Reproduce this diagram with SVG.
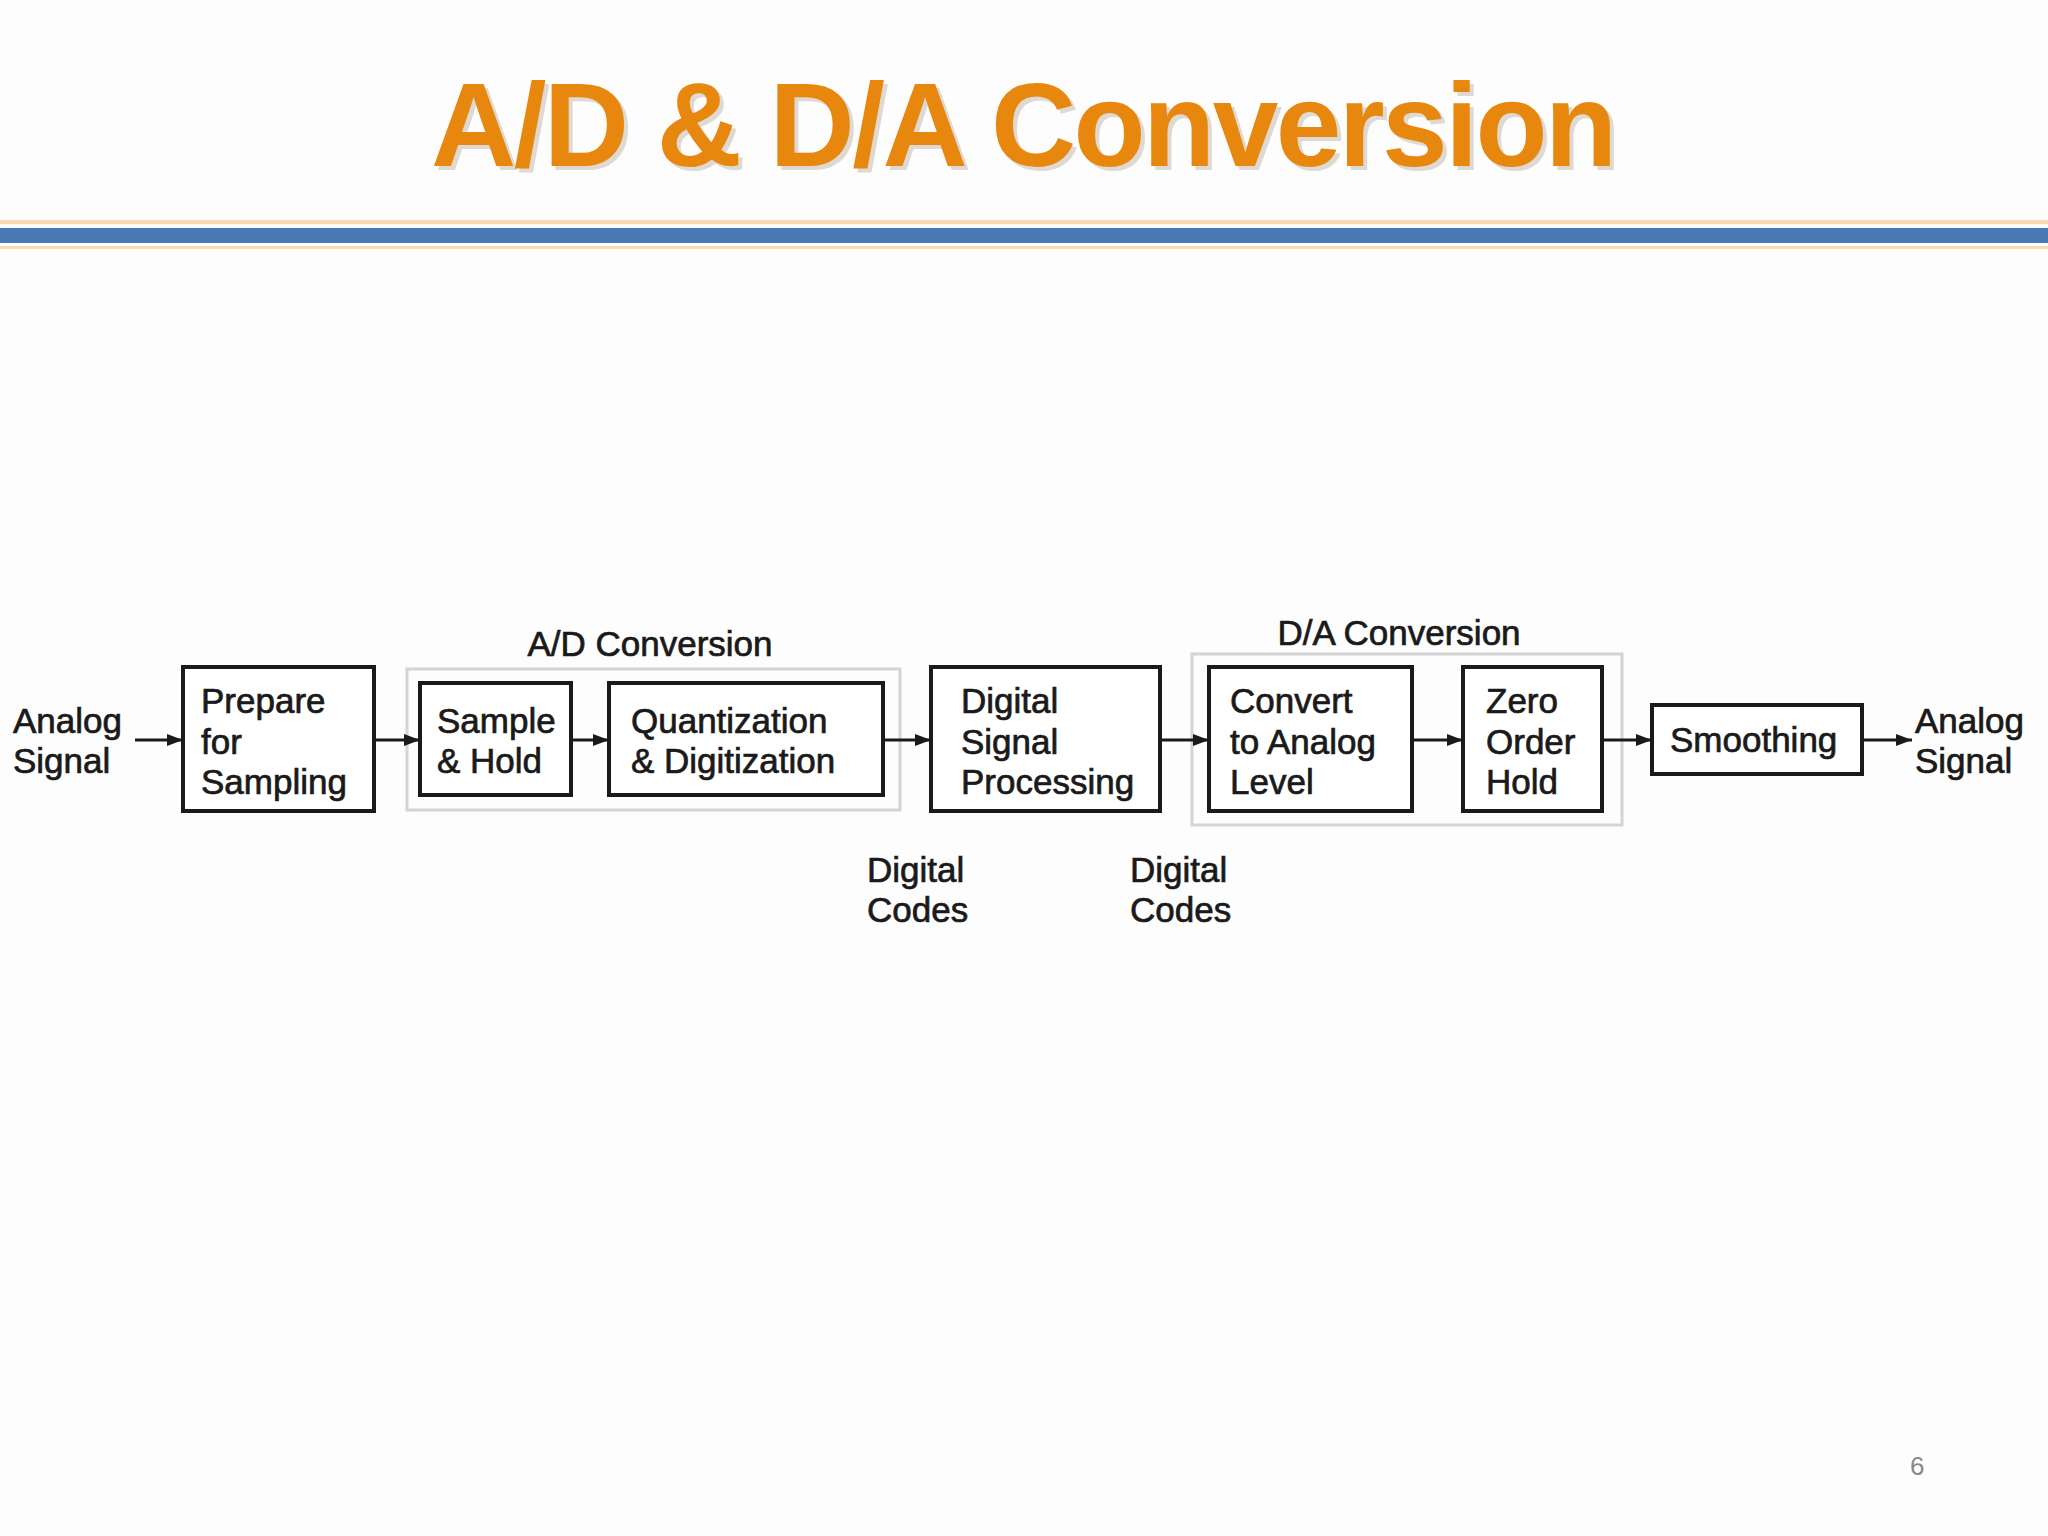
<svg xmlns="http://www.w3.org/2000/svg" width="2048" height="1536" viewBox="0 0 2048 1536">
<style>
.t{font-family:"Liberation Sans",Arial,sans-serif;font-size:35px;fill:#1a1a1a;stroke:#1a1a1a;stroke-width:0.7}
.b{fill:#fff;stroke:#1a1a1a;stroke-width:4}
.g{fill:none;stroke:#d4d4d4;stroke-width:3}
.c{stroke:#1a1a1a;stroke-width:3;fill:none;marker-end:url(#a)}
</style>
<defs><marker id="a" markerWidth="16" markerHeight="12" refX="16" refY="6" orient="auto" markerUnits="userSpaceOnUse"><path d="M0,0L16,6L0,12z" fill="#1a1a1a"/></marker></defs>
<rect width="2048" height="1536" fill="#fefdfd"/>
<text x="1028" y="170" text-anchor="middle" font-family="Liberation Sans,Arial,sans-serif" font-weight="bold" font-size="118" fill="#c9c2b6" opacity="0.6" textLength="1186">A/D &amp; D/A Conversion</text>
<text x="1024" y="166" text-anchor="middle" font-family="Liberation Sans,Arial,sans-serif" font-weight="bold" font-size="118" fill="#e8870e" textLength="1186">A/D &amp; D/A Conversion</text>
<rect x="0" y="220" width="2048" height="4" fill="#f8d9b0"/>
<rect x="0" y="228" width="2048" height="15" fill="#4a7ab5"/>
<rect x="0" y="246" width="2048" height="3" fill="#f8d9b0"/>
<g id="adgroup"><rect class="g" x="407" y="669" width="493" height="141"/><text class="t" x="650" y="656" text-anchor="middle">A/D Conversion</text></g>
<g id="dagroup"><rect class="g" x="1192" y="654" width="430" height="171"/><text class="t" x="1399" y="645" text-anchor="middle">D/A Conversion</text></g>
<g id="in"><text class="t" x="13" y="733">Analog</text><text class="t" x="13" y="773">Signal</text></g>
<g id="prepare"><rect class="b" x="183" y="667" width="191" height="144"/><text class="t" x="201" y="713">Prepare</text><text class="t" x="201" y="754">for</text><text class="t" x="201" y="794">Sampling</text></g>
<g id="sh"><rect class="b" x="420" y="683" width="151" height="112"/><text class="t" x="437" y="733">Sample</text><text class="t" x="437" y="773">&amp; Hold</text></g>
<g id="quant"><rect class="b" x="609" y="683" width="274" height="112"/><text class="t" x="631" y="733">Quantization</text><text class="t" x="631" y="773">&amp; Digitization</text></g>
<g id="dsp"><rect class="b" x="931" y="667" width="229" height="144"/><text class="t" x="961" y="713">Digital</text><text class="t" x="961" y="754">Signal</text><text class="t" x="961" y="794">Processing</text></g>
<g id="convert"><rect class="b" x="1209" y="667" width="203" height="144"/><text class="t" x="1230" y="713">Convert</text><text class="t" x="1230" y="754">to Analog</text><text class="t" x="1230" y="794">Level</text></g>
<g id="zoh"><rect class="b" x="1463" y="667" width="139" height="144"/><text class="t" x="1486" y="713">Zero</text><text class="t" x="1486" y="754">Order</text><text class="t" x="1486" y="794">Hold</text></g>
<g id="smooth"><rect class="b" x="1652" y="705" width="210" height="69"/><text class="t" x="1670" y="752">Smoothing</text></g>
<g id="out"><text class="t" x="1915" y="733">Analog</text><text class="t" x="1915" y="773">Signal</text></g>
<g id="codes1"><text class="t" x="867" y="882">Digital</text><text class="t" x="867" y="922">Codes</text></g>
<g id="codes2"><text class="t" x="1130" y="882">Digital</text><text class="t" x="1130" y="922">Codes</text></g>
<g id="connectors">
<line class="c" x1="135" y1="740" x2="183" y2="740"/>
<line class="c" x1="374" y1="740" x2="420" y2="740"/>
<line class="c" x1="571" y1="740" x2="609" y2="740"/>
<line class="c" x1="883" y1="740" x2="931" y2="740"/>
<line class="c" x1="1160" y1="740" x2="1209" y2="740"/>
<line class="c" x1="1412" y1="740" x2="1463" y2="740"/>
<line class="c" x1="1602" y1="740" x2="1652" y2="740"/>
<line class="c" x1="1862" y1="740" x2="1912" y2="740"/>
</g>
<text x="1910" y="1475" font-family="Liberation Sans,Arial,sans-serif" font-size="26" fill="#8a8a8a">6</text>
</svg>
